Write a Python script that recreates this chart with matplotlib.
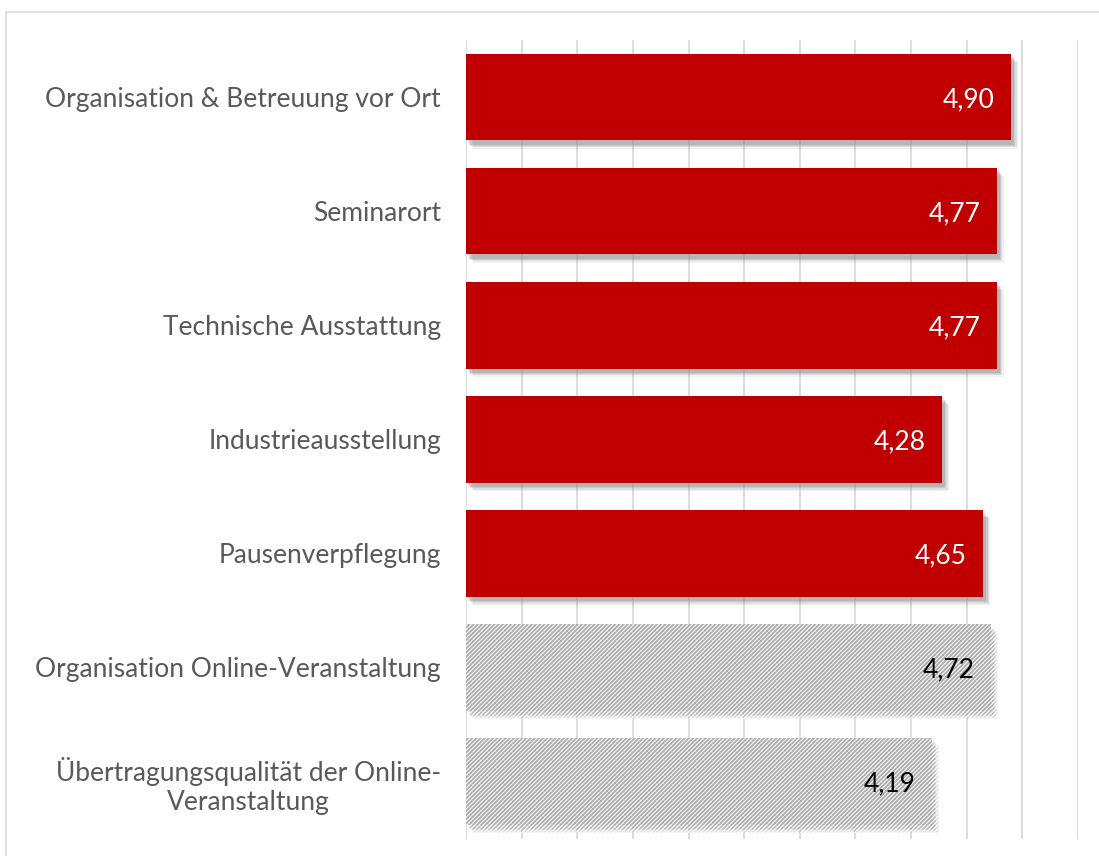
import numpy as np
import matplotlib
matplotlib.use("Agg")
import matplotlib.pyplot as plt
import matplotlib.patheffects as pe
from matplotlib.patches import Rectangle

categories = [
    "Organisation & Betreuung vor Ort",
    "Seminarort",
    "Technische Ausstattung",
    "Industrieausstellung",
    "Pausenverpflegung",
    "Organisation Online-Veranstaltung",
    "Übertragungsqualität der Online-\nVeranstaltung",
]
values = [4.90, 4.77, 4.77, 4.28, 4.65, 4.72, 4.19]
online = [False, False, False, False, False, True, True]

plt.rcParams['font.family'] = ['Lato', 'DejaVu Sans']
plt.rcParams['hatch.linewidth'] = 0.75

W, H = 1099, 856
fig = plt.figure(figsize=(W / 100, H / 100), dpi=100)
ax = fig.add_axes([466 / W, 1 - 838.5 / H, (1078 - 466) / W, (838.5 - 40) / H])

y = np.arange(len(categories))
# soft drop shadow, built from a few offset layers
shadow = [pe.SimplePatchShadow(offset=(o, -o - 1), shadow_rgbFace='#8c8c8c', alpha=a)
          for o, a in [(5, 0.12), (4, 0.18), (3, 0.25), (2, 0.3)]] + [pe.Normal()]
for yi, v, on in zip(y, values, online):
    if on:
        b = ax.barh(yi, v, height=0.76, color='#adadad', edgecolor='white',
                    hatch='/' * 8, linewidth=0, zorder=3)
        tc = 'black'
    else:
        b = ax.barh(yi, v, height=0.76, color='#c00000', linewidth=0, zorder=3)
        tc = 'white'
    for p in b.patches:
        p.set_path_effects(shadow)
    ax.text(v - 0.15, yi + 0.02, f"{v:.2f}".replace('.', ','), ha='right', va='center',
            fontsize=19, color=tc, zorder=4)

ax.set_xlim(0, 5.5)
ax.set_ylim(len(categories) - 0.5, -0.5)
ax.set_xticks(np.arange(0, 5.51, 0.5))
ax.set_xticklabels([])
ax.tick_params(axis='x', length=0)
ax.tick_params(axis='y', length=0, pad=18)
ax.set_yticks(y)
ax.set_yticklabels(categories, fontsize=19, color='#595959', multialignment='center',
                   linespacing=1.2)
ax.grid(axis='x', color='#d9d9d9', linewidth=1.3, zorder=0)
for s in ax.spines.values():
    s.set_visible(False)

# outer chart border
fig.patches.append(Rectangle((6 / W, -0.01), 1.0, 1 - 12 / H + 0.01, transform=fig.transFigure,
                             fill=False, edgecolor='#d9d9d9', linewidth=1.2))

fig.savefig("out.png", dpi=100)
